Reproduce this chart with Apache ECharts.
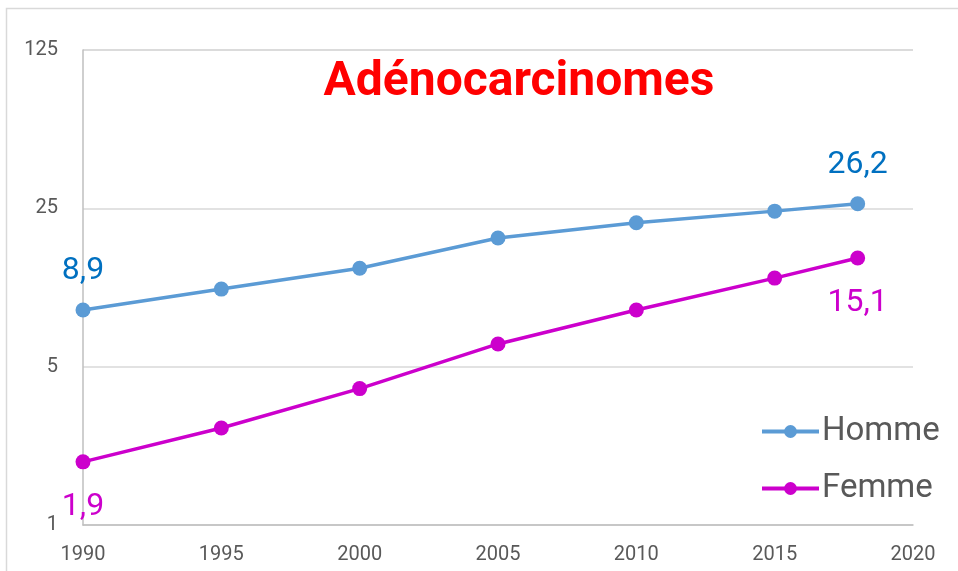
<!DOCTYPE html>
<html>
<head>
<meta charset="utf-8">
<script src="https://cdn.jsdelivr.net/npm/echarts@6/dist/echarts.min.js"></script>
<style>html,body{margin:0;padding:0;background:#fff}#c{width:958px;height:571px}</style>
</head>
<body>
<div id="c"></div>
<script>
const years = [1990, 1995, 2000, 2005, 2010, 2015, 2018];
const homme = [8.9, 11.0, 13.6, 18.5, 21.6, 24.3, 26.2];
const femme = [1.9, 2.68, 4.0, 6.3, 8.9, 12.3, 15.1];
const seriesNames = ['Homme', 'Femme'];
const title = 'Adénocarcinomes';
const yTicks = [1, 5, 25, 125];

const FONT = 'Roboto, "Noto Sans", sans-serif';
const fmt = v => String(v).replace('.', ',');

function build(vals, labelColor, pos, dist) {
  return years.map((y, i) => {
    const item = { value: [y, vals[i]] };
    if (i === 0 || i === years.length - 1) {
      item.label = {
        show: true,
        position: pos,
        distance: dist,
        formatter: p => fmt(p.value[1]),
        color: labelColor,
        fontSize: 32,
        fontFamily: FONT
      };
    }
    return item;
  });
}

const chart = echarts.init(document.getElementById('c'), null, { renderer: 'canvas' });
chart.setOption({
  animation: false,
  backgroundColor: '#fff',
  graphic: [{
    type: 'rect', left: 4, top: 6, z: -1,
    shape: { width: 960, height: 580 },
    style: { fill: 'none', stroke: '#D9D9D9', lineWidth: 1.5 }
  }],
  title: {
    text: title, left: 514, top: 54, textAlign: 'center',
    textStyle: { color: '#FF0000', fontSize: 48, fontWeight: 'bold', fontFamily: FONT }
  },
  grid: { left: 83, right: 45, top: 50, bottom: 46 },
  legend: {
    orient: 'vertical', left: 755, top: 410, itemGap: 24,
    itemWidth: 57, itemHeight: 16,
    lineStyle: { width: 4 },
    textStyle: { color: '#595959', fontSize: 33, fontFamily: FONT, padding: [0, 0, 0, -2] },
    data: seriesNames
  },
  xAxis: {
    type: 'value', min: 1990, max: 2020, interval: 5,
    axisLine: { show: true, lineStyle: { color: '#BFBFBF', width: 1.5 } },
    axisTick: { show: false },
    splitLine: { show: false },
    axisLabel: { color: '#595959', fontSize: 20, fontFamily: FONT, margin: 20, formatter: v => String(v) }
  },
  yAxis: {
    type: 'log', logBase: 5, min: yTicks[0], max: yTicks[yTicks.length - 1],
    axisLine: { show: true, lineStyle: { color: '#BFBFBF', width: 1.5 } },
    axisTick: { show: false },
    splitLine: { show: true, lineStyle: { color: '#D9D9D9', width: 1.5 } },
    axisLabel: { color: '#595959', fontSize: 20, fontFamily: FONT, margin: 25 }
  },
  series: [
    {
      name: seriesNames[0], type: 'line', data: build(homme, '#0070C0', 'top', 15),
      symbol: 'circle', symbolSize: 15,
      lineStyle: { color: '#5B9BD5', width: 3.5 },
      itemStyle: { color: '#5B9BD5' }
    },
    {
      name: seriesNames[1], type: 'line', data: build(femme, '#CC00CC', 'bottom', 22),
      symbol: 'circle', symbolSize: 15,
      lineStyle: { color: '#CC00CC', width: 3.5 },
      itemStyle: { color: '#CC00CC' }
    }
  ]
});
</script>
</body>
</html>
